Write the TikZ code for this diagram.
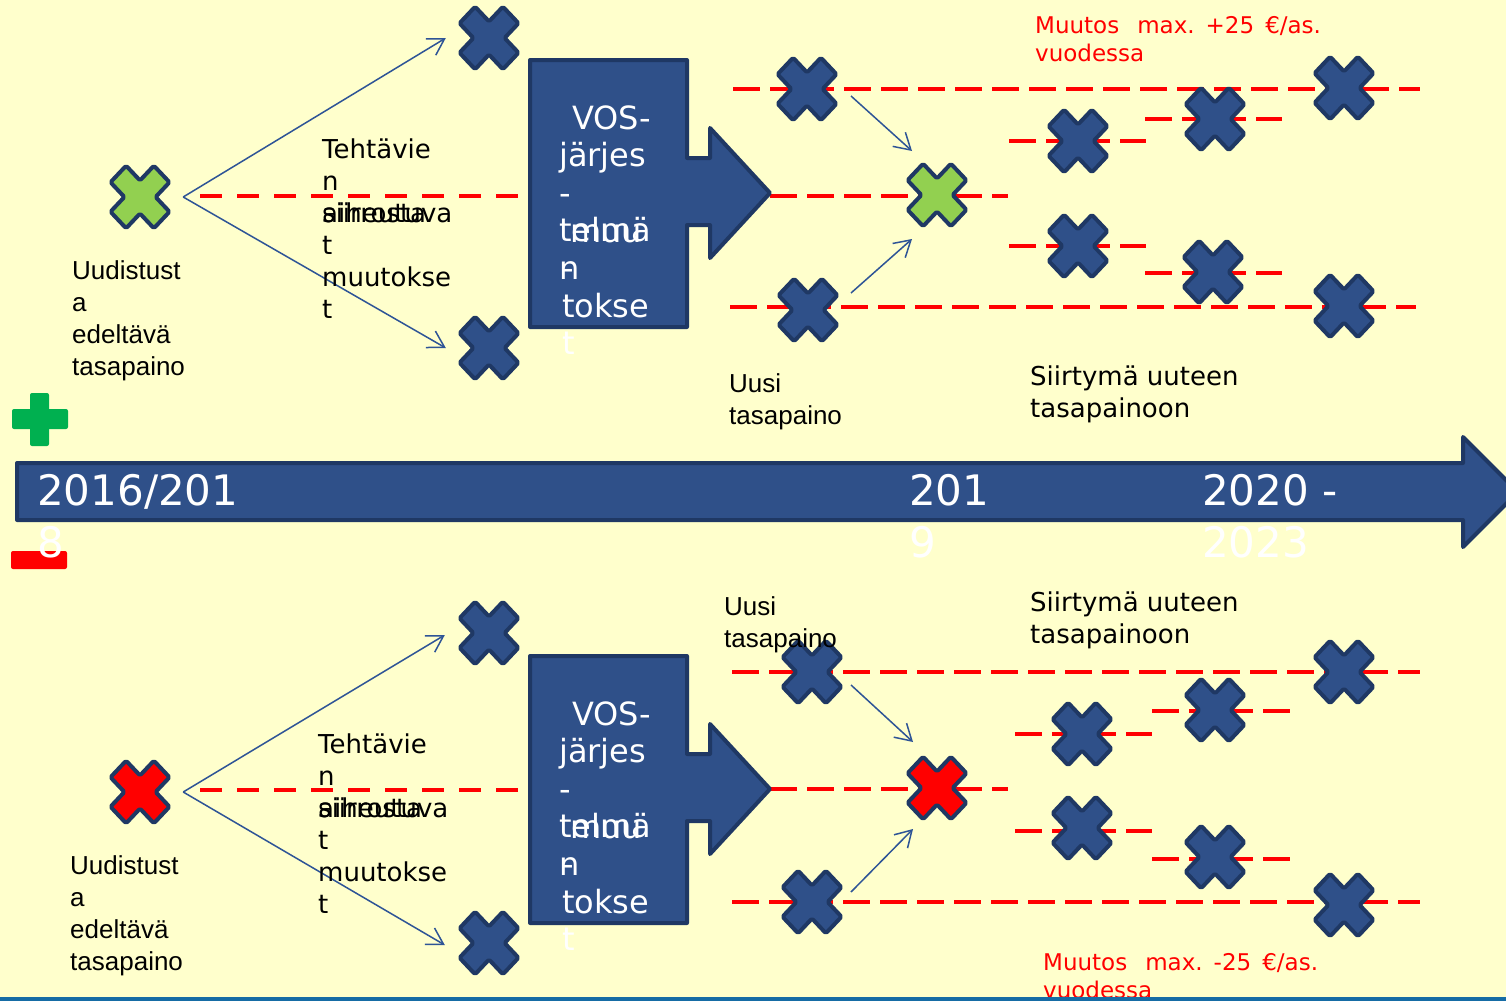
\documentclass[tikz,border=0pt]{standalone}
\usepackage{fontspec}
\setmainfont{DejaVu Sans}
\newfontfamily\arialf{Liberation Sans}
\usetikzlibrary{arrows.meta}
\definecolor{bgy}{RGB}{255,255,204}
\definecolor{xblue}{RGB}{47,80,137}
\definecolor{xedge}{RGB}{31,56,100}
\definecolor{xgreen}{RGB}{146,208,80}
\definecolor{xred}{RGB}{255,0,0}
\definecolor{plusgreen}{RGB}{0,176,80}
\definecolor{connblue}{RGB}{46,84,150}
\definecolor{barblue}{RGB}{22,108,165}
\newcommand\mylines[1]{\begin{tabular}[t]{@{}l@{}}#1\end{tabular}}
\tikzset{
 pics/xmark/.style={code={\draw[line width=4pt,draw=xedge,fill=#1,line join=round,rounded corners=1.5pt,yscale=1.06]
   (-13.9,29.5)--(0,15.6)--(13.9,29.5)--(29.5,13.9)--(15.6,0)--(29.5,-13.9)--(13.9,-29.5)--(0,-15.6)--(-13.9,-29.5)--(-29.5,-13.9)--(-15.6,0)--(-29.5,13.9)--cycle;}},
 spot/.style={circle,minimum size=86pt,inner sep=0pt},
 ldash/.style={red,line width=4pt,dash pattern=on 22pt off 15pt},
 rdash/.style={red,line width=4pt,dash pattern=on 27pt off 10pt},
 conn/.style={draw=connblue,line width=1.5pt,-{Straight Barb[length=16pt,width=19pt]}},
 bigshape/.style={fill=xblue,draw=xedge,line width=4pt,line join=round},
 txt/.style={anchor=base west,inner sep=0pt,font=\fontsize{26}{32}\selectfont},
 atxt/.style={anchor=base west,inner sep=0pt,font=\arialf\fontsize{26}{32.3}\selectfont},
 vtxt/.style={anchor=base west,inner sep=0pt,text=white,font=\fontsize{32}{37.5}\selectfont},
 rtxt/.style={anchor=base west,inner sep=0pt,text=red,font=\fontsize{23}{28.5}\selectfont},
 ytxt/.style={anchor=base west,inner sep=0pt,text=white,font=\fontsize{42}{52}\selectfont},
}
\begin{document}
\begin{tikzpicture}[x=1pt,y=-1pt]
\useasboundingbox (0,0) rectangle (1506,1001);
\fill[bgy] (0,0) rectangle (1506,1001);
\clip (0,0) rectangle (1506,1001);

% plus / minus
\fill[plusgreen,rounded corners=2pt] (30,393) rectangle (49,446);
\fill[plusgreen,rounded corners=2pt] (12,409) rectangle (68,429);
\fill[red,rounded corners=2pt] (11,551) rectangle (67,569);

% timeline
\draw[bigshape] (17,463) -- (1463,463) -- (1463,437) -- (1518,492) -- (1463,547) -- (1463,520) -- (17,520) -- cycle;
\node[ytxt] (y1) at (37,505) {\mylines{2016/201\\8}};
\node[ytxt] (y2) at (909,505) {\mylines{201\\9}};
\node[ytxt] (y3) at (1202,505) {\mylines{2020 -\\2023}};

% ================= TOP HALF =================
\draw[ldash] (200,196) -- (520,196);
\draw[rdash] (733,89) -- (1420,89);
\draw[rdash] (770,196) -- (1008,196);
\draw[rdash] (730,307) -- (1416,307);
\draw[rdash] (1009,141) -- (1146,141);
\draw[rdash] (1145,119) -- (1282,119);
\draw[rdash] (1009,246) -- (1146,246);
\draw[rdash] (1145,273) -- (1282,273);

\draw[bigshape] (530,60) -- (687,60) -- (687,158) -- (710,158) -- (710,128) -- (770,193) -- (710,258) -- (710,225) -- (687,225) -- (687,327) -- (530,327) -- cycle;

\node[spot] (gA) at (140,197) {}; \pic at (gA) {xmark=xgreen};
\node[spot] (bA1) at (489,38) {}; \pic at (bA1) {xmark=xblue};
\node[spot] (bA2) at (489,348) {}; \pic at (bA2) {xmark=xblue};
\node[spot] (tA1) at (807,89) {}; \pic at (tA1) {xmark=xblue};
\node[spot] (tA2) at (808,310) {}; \pic at (tA2) {xmark=xblue};
\node[spot] (gA2) at (937,195) {}; \pic at (gA2) {xmark=xgreen};
\node[spot] (sA1) at (1078,141) {}; \pic at (sA1) {xmark=xblue};
\node[spot] (sA2) at (1215,119) {}; \pic at (sA2) {xmark=xblue};
\node[spot] (sA3) at (1078,246) {}; \pic at (sA3) {xmark=xblue};
\node[spot] (sA4) at (1213,272) {}; \pic at (sA4) {xmark=xblue};
\node[spot] (sA5) at (1344,88) {}; \pic at (sA5) {xmark=xblue};
\node[spot] (sA6) at (1344,306) {}; \pic at (sA6) {xmark=xblue};

\draw[conn] (gA.east) -- (bA1.west);
\draw[conn] (gA.east) -- (bA2.west);
\draw[conn] ([shift={(44,7)}]tA1.center) -- ([shift={(-25,-44)}]gA2.center);
\draw[conn] ([shift={(43,-17)}]tA2.center) -- ([shift={(-25,44)}]gA2.center);

\node[txt] (tehA1) at (322,158) {\mylines{Tehtävie\\n\\siirrosta}};
\node[txt] (tehA2) at (322,222) {\mylines{aiheutuva\\t\\muutokse\\t}};
\node[atxt] (udA) at (72,279) {\mylines{Uudistust\\a\\edeltävä\\tasapaino}};
\node[vtxt] (vosA1) at (559,129) {\mylines{\hspace*{13pt}VOS-\\järjes\\-\\telmä\\n}};
\node[vtxt] (vosA2) at (562,242) {\mylines{\hspace*{8pt}muu\\-\\tokse\\t}};
\node[atxt] (uusiA) at (729,392) {\mylines{Uusi\\tasapaino}};
\node[txt] (siA) at (1030,385) {\mylines{Siirtymä uuteen\\tasapainoon}};
\node[rtxt] (muA) at (1035,33) {\mylines{Muutos\hspace{18pt}max.\hspace{11pt}+25\hspace{11pt}€/as.\\vuodessa}};

% ================= BOTTOM HALF =================
\draw[ldash] (200,790) -- (520,790);
\draw[rdash] (732,672) -- (1420,672);
\draw[rdash] (770,789) -- (1008,789);
\draw[rdash] (732,902) -- (1420,902);
\draw[rdash] (1015,734) -- (1152,734);
\draw[rdash] (1152,711) -- (1290,711);
\draw[rdash] (1015,831) -- (1152,831);
\draw[rdash] (1152,859) -- (1290,859);

\draw[bigshape] (530,656) -- (687,656) -- (687,754) -- (710,754) -- (710,724) -- (770,789) -- (710,854) -- (710,821) -- (687,821) -- (687,923) -- (530,923) -- cycle;

\node[spot] (rB) at (140,792) {}; \pic at (rB) {xmark=xred};
\node[spot] (bB1) at (489,633) {}; \pic at (bB1) {xmark=xblue};
\node[spot] (bB2) at (489,943) {}; \pic at (bB2) {xmark=xblue};
\node[spot] (tB1) at (812,672) {}; \pic at (tB1) {xmark=xblue};
\node[spot] (tB2) at (812,902) {}; \pic at (tB2) {xmark=xblue};
\node[spot] (rB2) at (937,788) {}; \pic at (rB2) {xmark=xred};
\node[spot] (sB1) at (1082,734) {}; \pic at (sB1) {xmark=xblue};
\node[spot] (sB2) at (1215,710) {}; \pic at (sB2) {xmark=xblue};
\node[spot] (sB3) at (1082,828) {}; \pic at (sB3) {xmark=xblue};
\node[spot] (sB4) at (1215,857) {}; \pic at (sB4) {xmark=xblue};
\node[spot] (sB5) at (1344,672) {}; \pic at (sB5) {xmark=xblue};
\node[spot] (sB6) at (1344,905) {}; \pic at (sB6) {xmark=xblue};

\draw[conn] (rB.east) -- ([shift={(-1,2)}]bB1.west);
\draw[conn] (rB.east) -- ([shift={(-1,2)}]bB2.west);
\draw[conn] ([shift={(39,13)}]tB1.center) -- ([shift={(-24,-46)}]rB2.center);
\draw[conn] ([shift={(39,-10)}]tB2.center) -- ([shift={(-24,41)}]rB2.center);

\node[txt] (tehB1) at (318,753) {\mylines{Tehtävie\\n\\siirrosta}};
\node[txt] (tehB2) at (318,817) {\mylines{aiheutuva\\t\\muutokse\\t}};
\node[atxt] (udB) at (70,874) {\mylines{Uudistust\\a\\edeltävä\\tasapaino}};
\node[vtxt] (vosB1) at (559,725) {\mylines{\hspace*{13pt}VOS-\\järjes\\-\\telmä\\n}};
\node[vtxt] (vosB2) at (562,838) {\mylines{\hspace*{8pt}muu\\-\\tokse\\t}};
\node[atxt] (uusiB) at (724,615) {\mylines{Uusi\\tasapaino}};
\node[txt] (siB) at (1030,611) {\mylines{Siirtymä uuteen\\tasapainoon}};
\node[rtxt] (muB) at (1043,970) {\mylines{Muutos\hspace{18pt}max.\hspace{11pt}-25\hspace{11pt}€/as.\\vuodessa}};

% bottom border
\draw[barblue,line width=4pt] (0,999) -- (1506,999);
\end{tikzpicture}
\end{document}
